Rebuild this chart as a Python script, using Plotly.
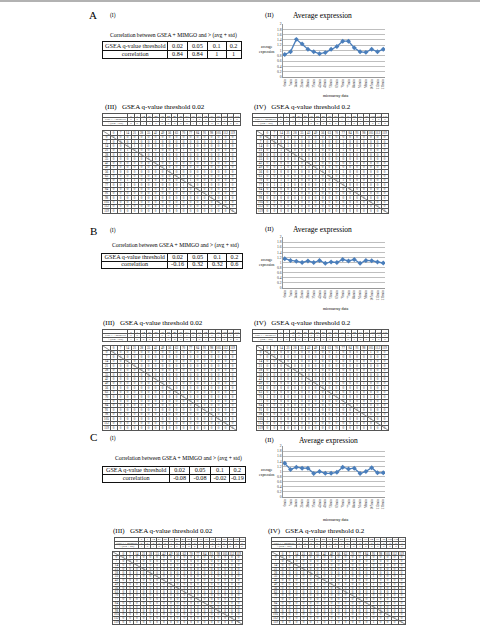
import plotly.graph_objects as go

W, H = 480, 625

# ---------------- data ----------------
time_points = [0, 7, 14, 21, 28, 35, 42, 49, 56, 63, 70, 77, 84, 91, 98, 105, 112, 119]
time_labels = [f"{t}min" for t in time_points]

thresholds = ["0.02", "0.05", "0.1", "0.2"]
corr_A = ["0.84", "0.84", "1", "1"]
corr_B = ["-0.16", "0.32", "0.32", "0.6"]
corr_C = ["-0.08", "-0.08", "-0.02", "-0.19"]

avg_A = [0.85, 0.95, 1.42, 1.25, 1.05, 0.95, 0.88, 0.92, 1.05, 1.15, 1.35, 1.35, 1.10, 0.95, 0.93, 1.05, 0.95, 1.05]
avg_B = [1.15, 1.08, 1.05, 1.00, 1.06, 1.00, 1.08, 0.97, 1.02, 1.00, 1.12, 1.06, 1.12, 0.97, 1.08, 1.07, 1.02, 0.98]
avg_C = [1.32, 1.08, 1.17, 1.13, 1.13, 0.92, 1.00, 0.93, 0.93, 0.97, 1.17, 1.10, 1.13, 0.92, 1.00, 1.15, 0.95, 0.95]

row_names = ["GSEA + MIMGO", "> (avg + std)"]

hdr_A_002 = ["001100000010000000", "001100000011000000"]
hdr_A_02 = ["001100000011000000", "001100000011000000"]
hdr_B_002 = ["000000010000001000", "100000000010100000"]
hdr_B_02 = ["100000000010000100", "100000000010100000"]
hdr_C_002 = ["000001000000010000", "101000000010000000"]
hdr_C_02 = ["000001010000010001", "101000000010000000"]

grid_A_002 = [
    "000000000000000000",
    "000000000000000000",
    "000100000001000000",
    "001000000010000000",
    "000000000000000000",
    "000000000000000000",
    "000000000000000000",
    "000000000000000000",
    "000000000000000000",
    "000000000000000000",
    "001100000001000000",
    "001000000010000000",
    "000000000000000000",
    "000000000000000000",
    "000000000000000000",
    "000000000000000000",
    "000000000000000000",
    "000000000000000000",
]
grid_A_02 = [
    "000000000000000000",
    "000100000001000000",
    "000100010011000000",
    "011000000011010000",
    "000000000000000000",
    "000000000000000000",
    "000000000000000000",
    "001000000000000000",
    "000000000001000000",
    "000000000000000000",
    "011100000001000000",
    "011100001010000000",
    "000000000000000000",
    "000100000000000000",
    "000000000000000000",
    "000000000000000000",
    "000000000000000000",
    "000000000000000000",
]
grid_B_002 = [
    "000000000000000000",
    "000000000000000000",
    "000000000000000000",
    "000000000000000000",
    "000000000000000000",
    "000000000000000000",
    "000000000000000000",
    "000000000000001000",
    "000000000000000000",
    "000000000000000000",
    "000000000000000000",
    "000000000000000000",
    "000000000000000000",
    "000000000000000000",
    "000000010000000000",
    "000000000000000000",
    "000000000000000000",
    "000000000000000000",
]
grid_B_02 = [
    "000000000010000100",
    "000000000000000000",
    "000000000000000000",
    "000000000000000000",
    "000000000000000000",
    "000000000000000000",
    "000000000000000000",
    "000000000000001000",
    "000000000000000000",
    "000000000000000000",
    "100000000000000100",
    "000000000000000000",
    "000000000000000000",
    "000000000000000000",
    "000000010000000000",
    "100000000010000000",
    "000000000000000000",
    "000000000000000000",
]
grid_C_002 = [
    "000000000000000000",
    "000000000000000000",
    "000000000000000000",
    "000000000000000000",
    "000000000000000000",
    "000000000000010000",
    "000000000000000000",
    "000000000000000000",
    "000000000000000000",
    "000000000000000000",
    "000000000000000000",
    "000000000000000000",
    "000000000000000000",
    "000001000000000000",
    "000000000000000000",
    "000000000000000000",
    "000000000000000000",
    "000000000000000000",
]
grid_C_02 = [
    "000000000000000000",
    "000000000000000000",
    "000000000000000000",
    "000000000000000000",
    "000000000000000000",
    "000000010000010001",
    "000000000000000000",
    "000001000000010000",
    "000000000000000000",
    "000000000000000000",
    "000000000000000000",
    "000000000000000000",
    "000000000000000000",
    "000001010000000001",
    "000000000000000000",
    "000000000000000000",
    "000000000000000000",
    "000001010000010000",
]

# ---------------- layout config (pixels) ----------------
SERIF = "Liberation Serif, Times New Roman, serif"
BLUE = "#4A7EBB"

panels = [
    dict(letter="A", avg=avg_A, corr=corr_A,
         hdr3=hdr_A_002, hdr4=hdr_A_02, grid3=grid_A_002, grid4=grid_A_02,
         letter_xy=(93, 15), i_xy=(108, 15), ii_xy=(263, 15), title_xy=(322, 15),
         ctitle_xy=(173, 35), ctab=(103, 241, 42, 58),
         line=(283, 385, 24, 77), ylab_xy=(267, 50), xlab_xy=(335, 95),
         t3=(103, 107), t4=(252, 107),
         h3=(103, 240, 114, 125), g3=(103, 236, 131, 213),
         h4=(253, 388, 114, 125), g4=(257, 388, 131, 213)),
    dict(letter="B", avg=avg_B, corr=corr_B,
         hdr3=hdr_B_002, hdr4=hdr_B_02, grid3=grid_B_002, grid4=grid_B_02,
         letter_xy=(93, 231), i_xy=(108, 230), ii_xy=(263, 229), title_xy=(322, 229),
         ctitle_xy=(175, 245), ctab=(102, 242, 254, 268),
         line=(283, 385, 237, 288), ylab_xy=(267, 262), xlab_xy=(335, 308),
         t3=(101, 323), t4=(252, 323),
         h3=(103, 240, 330, 341), g3=(103, 236, 346, 430),
         h4=(253, 388, 330, 341), g4=(257, 388, 346, 430)),
    dict(letter="C", avg=avg_C, corr=corr_C,
         hdr3=hdr_C_002, hdr4=hdr_C_02, grid3=grid_C_002, grid4=grid_C_02,
         letter_xy=(93, 437), i_xy=(108, 438), ii_xy=(263, 440), title_xy=(328, 440),
         ctitle_xy=(178, 458), ctab=(103, 245, 467, 482),
         line=(283, 385, 446, 497), ylab_xy=(267, 472), xlab_xy=(335, 519),
         t3=(111, 531), t4=(266, 531),
         h3=(115, 245, 538, 548), g3=(113, 242, 552, 624),
         h4=(272, 405, 538, 548), g4=(272, 405, 552, 624)),
]


def px(x):
    return x / W


def py(y):
    return 1 - y / H


fig = go.Figure()
layout = {}
annotations = []
ax_counter = [0]


def new_axes():
    ax_counter[0] += 1
    n = ax_counter[0]
    s = "" if n == 1 else str(n)
    return n, "x" + s, "y" + s, "xaxis" + s, "yaxis" + s


def ann(x, y, text, size, xanchor="center", color="black", family=SERIF, yanchor="middle"):
    annotations.append(dict(x=px(x), y=py(y), xref="paper", yref="paper", text=text,
                            showarrow=False, xanchor=xanchor, yanchor=yanchor,
                            font=dict(size=size, color=color, family=family)))


def add_table(box, col_w, n_rows, cells, font_size, line_color, line_w, diag=False, text_color="#222"):
    n, xa, ya, xk, yk = new_axes()
    x0, x1, y0, y1 = box
    bounds = [0]
    for w in col_w:
        bounds.append(bounds[-1] + w)
    total = bounds[-1]
    layout[xk] = dict(domain=[px(x0), px(x1)], range=[0, total], tickvals=bounds[1:-1],
                      showgrid=True, gridcolor=line_color, gridwidth=line_w,
                      showline=True, mirror=True, linecolor=line_color, linewidth=line_w,
                      showticklabels=False, ticks="", zeroline=False, fixedrange=True,
                      automargin=False, anchor=ya)
    layout[yk] = dict(domain=[py(y1), py(y0)], range=[n_rows, 0], tickvals=list(range(1, n_rows)),
                      showgrid=True, gridcolor=line_color, gridwidth=line_w,
                      showline=True, mirror=True, linecolor=line_color, linewidth=line_w,
                      showticklabels=False, ticks="", zeroline=False, fixedrange=True,
                      automargin=False, anchor=xa)
    xs, ys, ts = [], [], []
    for r, c, t in cells:
        xs.append((bounds[c] + bounds[c + 1]) / 2)
        ys.append(r + 0.5)
        ts.append(t)
    fig.add_trace(go.Scatter(x=xs, y=ys, text=ts, mode="text", xaxis=xa, yaxis=ya,
                             textposition="middle center", hoverinfo="skip", showlegend=False,
                             textfont=dict(size=font_size, family=SERIF, color=text_color)))
    if diag:
        fig.add_trace(go.Scatter(x=[0, total], y=[0, n_rows], mode="lines", xaxis=xa, yaxis=ya,
                                 line=dict(color="#666", width=0.7), hoverinfo="skip",
                                 showlegend=False))


for p in panels:
    # labels
    ann(*p["letter_xy"], p["letter"], 11)
    ann(p["i_xy"][0], p["i_xy"][1], "(I)", 5.5, xanchor="left")
    ann(p["ii_xy"][0], p["ii_xy"][1], "(II)", 6.5, xanchor="left")
    ann(*p["title_xy"], "Average expression", 7.5)
    ann(*p["ctitle_xy"], "Correlation between GSEA + MIMGO and > (avg + std)", 5.6)

    # correlation table
    cells = [(0, 0, "GSEA q-value threshold"), (1, 0, "correlation")]
    for i, (t, c) in enumerate(zip(thresholds, p["corr"])):
        cells.append((0, i + 1, t))
        cells.append((1, i + 1, c))
    add_table(p["ctab"], [65, 20, 20, 19, 15], 2, cells, 6.2, "#111", 0.8, text_color="#111")

    # line chart
    n, xa, ya, xk, yk = new_axes()
    x0, x1, y0, y1 = p["line"]
    layout[xk] = dict(domain=[px(x0), px(x1)], type="category", range=[-0.3, len(time_labels) - 0.7],
                      tickangle=-90, tickfont=dict(size=3.4, family=SERIF, color="#333"),
                      showline=True, linecolor="#999", linewidth=0.6, showgrid=False,
                      ticks="", automargin=False, anchor=ya, fixedrange=True, ticklen=1)
    layout[yk] = dict(domain=[py(y1), py(y0)], range=[0, 2], dtick=0.2, tick0=0,
                      tickfont=dict(size=3.6, family=SERIF, color="#333"),
                      showline=True, linecolor="#999", linewidth=0.6,
                      showgrid=True, gridcolor="#bfbfbf", gridwidth=0.5, zeroline=False,
                      ticks="", automargin=False, anchor=xa, fixedrange=True)
    fig.add_trace(go.Scatter(x=time_labels, y=p["avg"], mode="lines+markers", xaxis=xa, yaxis=ya,
                             line=dict(color=BLUE, width=1.3),
                             marker=dict(symbol="diamond", size=3.8, color=BLUE),
                             showlegend=False))
    ann(*p["ylab_xy"], "average<br>expression", 3.6)
    ann(*p["xlab_xy"], "microarray data", 4)

    # threshold titles
    ann(p["t3"][0], p["t3"][1], "(III)&nbsp;&nbsp;&nbsp;GSEA q-value threshold 0.02", 7, xanchor="left")
    ann(p["t4"][0], p["t4"][1], "(IV)&nbsp;&nbsp;&nbsp;GSEA q-value threshold 0.2", 7, xanchor="left")

    nt = len(time_points)
    for hkey, gkey, hbox, gbox in [("hdr3", "grid3", "h3", "g3"), ("hdr4", "grid4", "h4", "g4")]:
        # header table: time row + two binary rows
        cells = []
        for j, t in enumerate(time_points):
            cells.append((0, j + 1, str(t)))
        for r, (name, row) in enumerate(zip(row_names, p[hkey])):
            cells.append((r + 1, 0, name))
            for j, v in enumerate(row):
                cells.append((r + 1, j + 1, v))
        add_table(p[hbox], [4] + [1] * nt, 3, cells, 2.9, "#555", 0.5)

        # grid table
        cells = []
        for j, t in enumerate(time_points):
            cells.append((0, j + 1, str(t)))
            cells.append((j + 1, 0, str(t)))
        for i, row in enumerate(p[gkey]):
            for j, v in enumerate(row):
                cells.append((i + 1, j + 1, v))
        add_table(p[gbox], [1] * (nt + 1), nt + 1, cells, 3.2, "#555", 0.5, diag=True)

layout["annotations"] = annotations
layout["shapes"] = [dict(type="line", xref="paper", yref="paper", x0=0, x1=1,
                         y0=py(1), y1=py(1), line=dict(color="#999", width=1.5))]
fig.update_layout(**layout)
fig.update_layout(width=W, height=H, margin=dict(l=0, r=0, t=0, b=0),
                  paper_bgcolor="white", plot_bgcolor="white", showlegend=False)

fig.write_html("out.html")
